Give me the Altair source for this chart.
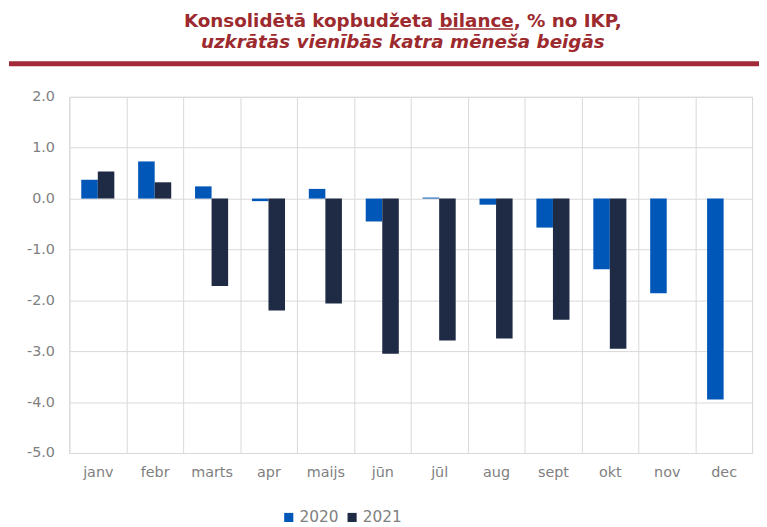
import altair as alt
import pandas as pd

months = ["janv", "febr", "marts", "apr", "maijs", "jūn", "jūl", "aug", "sept", "okt", "nov", "dec"]
years = ["2020", "2021"]
v2020 = [0.37, 0.73, 0.24, -0.05, 0.19, -0.45, 0.02, -0.12, -0.57, -1.39, -1.86, -3.95]
v2021 = [0.53, 0.32, -1.72, -2.20, -2.06, -3.05, -2.79, -2.75, -2.38, -2.95, None, None]
y_ticks = [2, 1, 0, -1, -2, -3, -4, -5]
title_line1 = "Konsolidētā kopbudžeta bilance, % no IKP,"
title_line2 = "uzkrātās vienībās katra mēneša beigās"

rows = []
for m, a, b in zip(months, v2020, v2021):
    if a is not None:
        rows.append({"month": m, "year": "2020", "value": a})
    if b is not None:
        rows.append({"month": m, "year": "2021", "value": b})
df = pd.DataFrame(rows)

TITLE_COLOR = "#9C2A2E"
GRID = "#d9d9d9"
LABEL = "#808080"
FONT = "DejaVu Sans"

bars = alt.Chart(df).mark_bar().encode(
    x=alt.X("month:N", sort=months,
            scale=alt.Scale(paddingInner=0, paddingOuter=0),
            axis=alt.Axis(title=None, labelAngle=0, tickBand="extent", grid=True,
                          gridColor=GRID, domain=False, ticks=False,
                          labelColor=LABEL, labelFont=FONT, labelFontSize=14.5,
                          labelPadding=13)),
    xOffset=alt.XOffset("year:N", sort=years,
                        scale=alt.Scale(paddingOuter=0.72, paddingInner=0)),
    y=alt.Y("value:Q", scale=alt.Scale(domain=[-5, 2], nice=False, zero=False),
            axis=alt.Axis(title=None, values=y_ticks, grid=True, gridColor=GRID,
                          domain=False, ticks=False, labelColor=LABEL, labelFont=FONT,
                          labelFontSize=14.5, labelPadding=15,
                          labelExpr="replace(format(datum.value, '.1f'), '\u2212', '-')")),
    color=alt.Color("year:N", sort=years,
                    scale=alt.Scale(domain=years, range=["#0057B8", "#1F2A44"]),
                    legend=alt.Legend(title=None, orient="none", legendX=214, legendY=417,
                                      direction="horizontal", symbolType="square",
                                      symbolSize=85, symbolStrokeWidth=0,
                                      labelFontSize=15.5, labelColor=LABEL, labelFont=FONT,
                                      columnPadding=6, labelOffset=3)),
)

deco = pd.DataFrame({"k": [0]})
t1 = alt.Chart(deco).mark_text(
    text=title_line1, font=FONT, fontSize=18.5, fontWeight="bold", color=TITLE_COLOR,
    align="center", baseline="alphabetic"
).encode(x=alt.value(337), y=alt.value(-71))
t2 = alt.Chart(deco).mark_text(
    text=title_line2, font=FONT, fontSize=18.5, fontWeight="bold", fontStyle="italic",
    color=TITLE_COLOR, align="center", baseline="alphabetic"
).encode(x=alt.value(337), y=alt.value(-49.5))
underline = alt.Chart(deco).mark_rule(color=TITLE_COLOR, strokeWidth=1.5).encode(
    x=alt.value(373), x2=alt.value(448.5), y=alt.value(-68.5)
)
red_line = alt.Chart(deco).mark_rule(color="#A3283A", strokeWidth=5).encode(
    x=alt.value(-61), x2=alt.value(697), y=alt.value(-33.5)
)

chart = alt.layer(bars, t1, t2, underline, red_line).properties(
    width=690, height=360,
    padding={"left": 62, "top": 87, "right": 7, "bottom": 70},
    autosize=alt.AutoSizeParams(type="none"),
).configure_view(stroke=None).configure(background="white")

chart.save("out.html", embed_options={"renderer": "svg", "actions": False})
